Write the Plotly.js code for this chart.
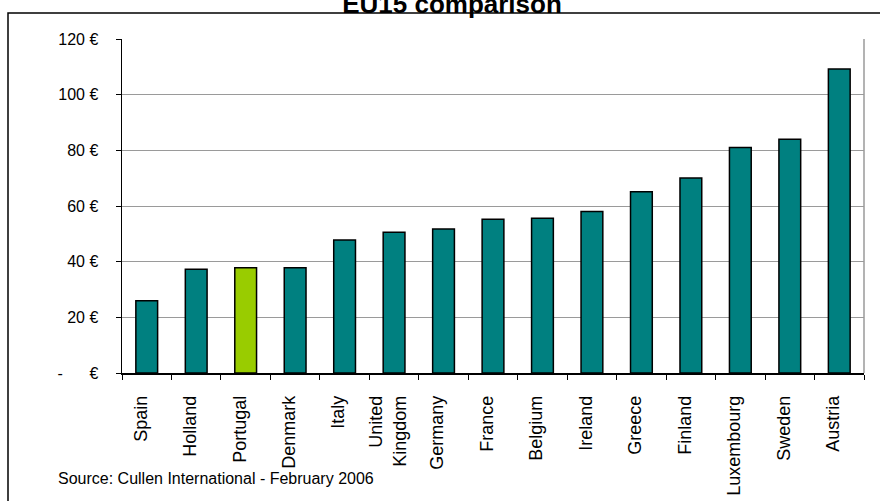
<!DOCTYPE html>
<html>
<head>
<meta charset="utf-8">
<script src="https://cdn.plot.ly/plotly-3.0.1.min.js"></script>
<style>
  html, body { margin: 0; padding: 0; background: #fff; }
  #chart { width: 880px; height: 501px; }
</style>
</head>
<body>
<div id="chart"></div>
<script>
// EU15 price comparison (€), sorted from cheapest to most expensive
const countries = ['Spain', 'Holland', 'Portugal', 'Denmark', 'Italy', 'United<br>Kingdom',
  'Germany', 'France', 'Belgium', 'Ireland', 'Greece', 'Finland', 'Luxembourg', 'Sweden', 'Austria'];
const prices = [26.0, 37.3, 37.8, 37.8, 47.8, 50.6, 51.7, 55.2, 55.6, 58.0, 65.1, 70.1, 81.0, 84.0, 109.2];
const highlighted = 'Portugal';

const yTickValues = [0, 20, 40, 60, 80, 100, 120];
const yTickLabels = ['-\u00a0\u00a0\u00a0\u00a0\u00a0\u00a0€', '20 €', '40 €', '60 €', '80 €', '100 €', '120 €'];

const sourceNote = 'Source: Cullen International - February 2006';

const TEAL = '#008080';
const LIME = '#99CC00';
const FONT = 'Liberation Sans, Arial, sans-serif';

// plot-area geometry in pixels, used to place the frame and the note
const W = 880, H = 501;
const M = { l: 122, r: 16, t: 39, b: 128 };
const PW = W - M.l - M.r, PH = H - M.t - M.b;
const px = x => (x - M.l) / PW;
const py = y => (H - M.b - y) / PH;

const trace = {
  type: 'bar',
  x: countries,
  y: prices,
  marker: {
    color: countries.map(c => c === highlighted ? LIME : TEAL),
    line: { color: '#000', width: 1.5 }
  },
  hoverinfo: 'x+y'
};

const layout = {
  width: W,
  height: H,
  margin: M,
  paper_bgcolor: '#fff',
  plot_bgcolor: '#fff',
  showlegend: false,
  bargap: 0.56,
  font: { family: FONT, color: '#000' },
  title: {
    text: '<b>EU15 comparison</b>',
    font: { family: FONT, size: 26, color: '#000' },
    xref: 'container', yref: 'container',
    x: 452 / W, xanchor: 'center',
    y: (H - 12.5) / H, yanchor: 'bottom'
  },
  xaxis: {
    type: 'category',
    showgrid: false,
    showline: true, linecolor: '#000', linewidth: 1.5,
    ticks: 'outside', tickson: 'boundaries', ticklen: 5, tickcolor: '#000', tickwidth: 1,
    tickangle: -90,
    ticklabelstandoff: 14,
    ticklabelshift: -6,
    tickfont: { family: FONT, size: 18, color: '#000' },
    fixedrange: true
  },
  yaxis: {
    range: [0, 120],
    tickvals: yTickValues,
    ticktext: yTickLabels,
    showgrid: true, gridcolor: '#9a9a9a', gridwidth: 1,
    zeroline: false,
    showline: true, linecolor: '#000', linewidth: 1.5,
    ticks: 'outside', ticklen: 5, tickcolor: '#000', tickwidth: 1,
    ticklabelstandoff: 14,
    tickfont: { family: FONT, size: 16, color: '#000' },
    fixedrange: true
  },
  shapes: [
    // grey right edge of the plot area
    { type: 'line', xref: 'paper', yref: 'paper', x0: 1, x1: 1, y0: 0, y1: 1,
      line: { color: '#9a9a9a', width: 1.5 }, layer: 'below' },
    // outer chart frame
    { type: 'rect', xref: 'paper', yref: 'paper',
      x0: px(8), x1: px(W + 20), y0: py(H + 20), y1: py(13),
      line: { color: '#000', width: 1.5 }, fillcolor: 'rgba(0,0,0,0)' }
  ],
  annotations: [
    { text: sourceNote, showarrow: false,
      xref: 'paper', yref: 'paper',
      x: px(56), xanchor: 'left',
      y: py(489), yanchor: 'bottom',
      font: { family: FONT, size: 16, color: '#000' } }
  ]
};

Plotly.newPlot('chart', [trace], layout, { displayModeBar: false, staticPlot: true });
</script>
</body>
</html>
